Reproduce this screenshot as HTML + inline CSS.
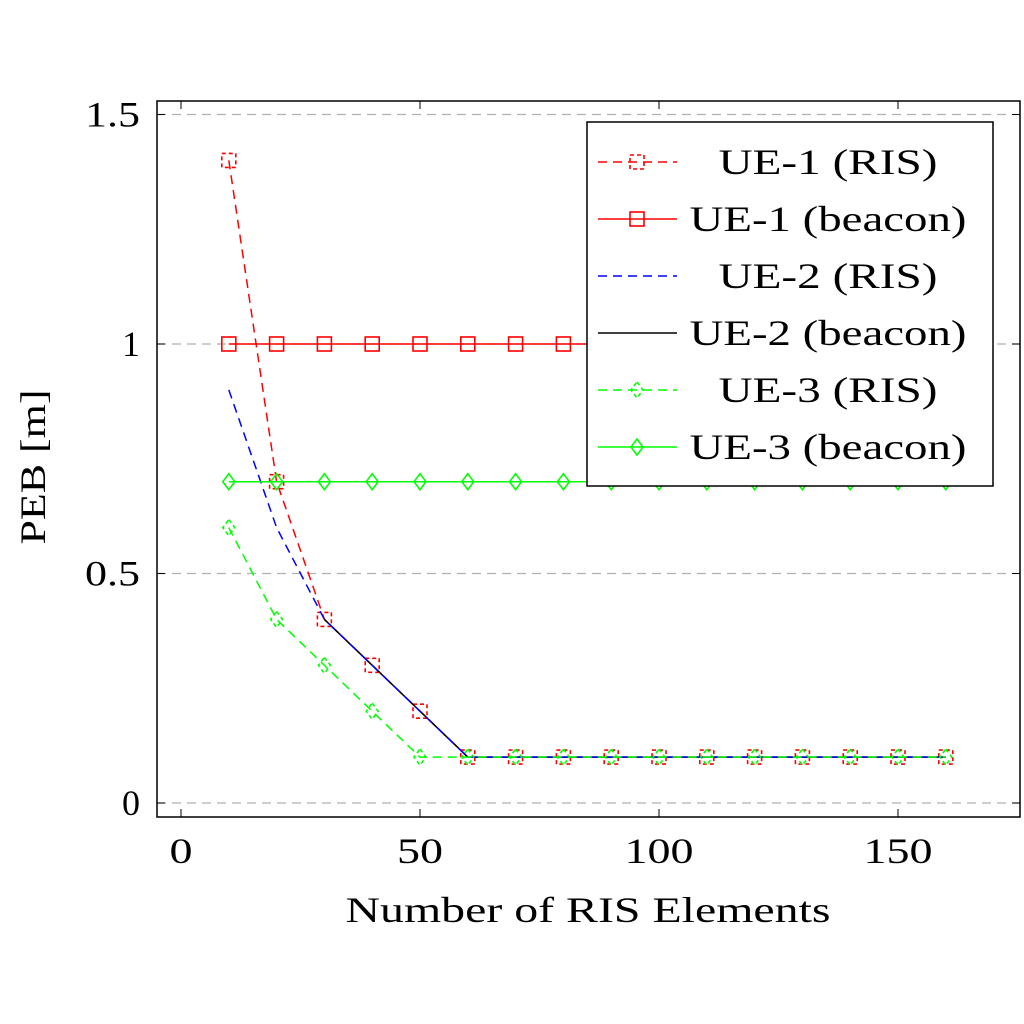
<!DOCTYPE html>
<html><head><meta charset="utf-8"><style>
html,body{margin:0;padding:0;background:#fff;width:1024px;height:1024px;overflow:hidden}
svg text{font-family:"Liberation Serif",serif;fill:#000}
</style></head><body>
<svg id="chart" width="1024" height="1024" viewBox="0 0 1024 1024" xmlns="http://www.w3.org/2000/svg"></svg>
<script>
const xs=[10,20,30,40,50,60,70,80,90,100,110,120,130,140,150,160];
const ue1Ris=[1.4,0.7,0.4,0.3,0.2,0.1,0.1,0.1,0.1,0.1,0.1,0.1,0.1,0.1,0.1,0.1];
const ue1Beacon=[1,1,1,1,1,1,1,1,1,1,1,1,1,1,1,1];
const ue2Ris=[0.9,0.6,0.4,0.3,0.2,0.1,0.1,0.1,0.1,0.1,0.1,0.1,0.1,0.1,0.1,0.1];
const ue2Beacon=[null,null,0.4,0.3,0.2,0.1,0.1,0.1,0.1,0.1,0.1,0.1,0.1,0.1,0.1,0.1];
const ue3Ris=[0.6,0.4,0.3,0.2,0.1,0.1,0.1,0.1,0.1,0.1,0.1,0.1,0.1,0.1,0.1,0.1];
const ue3Beacon=[0.7,0.7,0.7,0.7,0.7,0.7,0.7,0.7,0.7,0.7,0.7,0.7,0.7,0.7,0.7,0.7];
const xTicks=[0,50,100,150];
const yTicks=[0,0.5,1,1.5];
const yTickLabels=["0","0.5","1","1.5"];
const legendLabels=["UE-1 (RIS)","UE-1 (beacon)","UE-2 (RIS)","UE-2 (beacon)","UE-3 (RIS)","UE-3 (beacon)"];

const svg=document.getElementById('chart');
const NS='http://www.w3.org/2000/svg';
const X=v=>181+v*4.78;
const Y=v=>803-v*459;
const FS=36;
function mk(tag,attrs,parent){const e=document.createElementNS(NS,tag);for(const k in attrs)e.setAttribute(k,attrs[k]);(parent||svg).appendChild(e);return e;}
function stretch(t,len){t.setAttribute('textLength',len);t.setAttribute('lengthAdjust','spacingAndGlyphs');}
const digitW=23;

yTicks.forEach((t,i)=>{
  const g=mk('line',{x1:157,x2:1020,y1:Y(t),y2:Y(t),stroke:'#b0b0b0','stroke-width':1.3,'stroke-dasharray':'9,6'});
  
  
  const tk=mk('text',{x:140,y:Y(t)+12,'font-size':FS,'text-anchor':'end'});
  tk.textContent=yTickLabels[i];
  const lab=yTickLabels[i];
  stretch(tk, lab.length===1?18:55);
  
  
  mk('line',{x1:157,x2:165,y1:Y(t),y2:Y(t),stroke:'#000','stroke-width':1});
  mk('line',{x1:1012,x2:1020,y1:Y(t),y2:Y(t),stroke:'#000','stroke-width':1});
});
xTicks.forEach(t=>{
  const tk=mk('text',{x:X(t),y:863,'font-size':FS,'text-anchor':'middle'});
  tk.textContent=String(t);
  stretch(tk,String(t).length*digitW);
  
  
  mk('line',{x1:X(t),x2:X(t),y1:809,y2:817,stroke:'#000','stroke-width':1});
  mk('line',{x1:X(t),x2:X(t),y1:101,y2:109,stroke:'#000','stroke-width':1});
});

function marker(type,x,y,color,dashed,parent){
  const da=dashed?'4,3':'none';
  if(type==='sq') return mk('rect',{x:x-7,y:y-7,width:14,height:14,fill:'none',stroke:color,'stroke-width':1.6,'stroke-dasharray':da},parent);
  if(type==='dia') return mk('polygon',{points:`${x},${y-8} ${x+6},${y} ${x},${y+8} ${x-6},${y}`,fill:'none',stroke:color,'stroke-width':1.6,'stroke-dasharray':da},parent);
}
const series=[
 {name:'ue1-ris',data:ue1Ris,color:'#ff0000',dash:'9,6',m:'sq',md:true},
 {name:'ue1-beacon',data:ue1Beacon,color:'#ff0000',dash:'none',m:'sq',md:false},
 {name:'ue2-ris',data:ue2Ris,color:'#0000ff',dash:'9,6',m:null},
 {name:'ue2-beacon',data:ue2Beacon,color:'#000000',dash:'none',m:null},
 {name:'ue3-ris',data:ue3Ris,color:'#00ff00',dash:'9,6',m:'dia',md:true},
 {name:'ue3-beacon',data:ue3Beacon,color:'#00ff00',dash:'none',m:'dia',md:false},
];
[1,0,3,2,5,4].forEach(i=>{
  const s=series[i];
  const g=mk('g',{});
  
  
  let d='';let pen=false;
  s.data.forEach((v,j)=>{if(v==null){pen=false;return;}d+=(pen?'L':'M')+X(xs[j])+','+Y(v)+' ';pen=true;});
  mk('path',{d:d,fill:'none',stroke:s.color,'stroke-width':1.5,'stroke-dasharray':s.dash},g);
  if(s.m) s.data.forEach((v,j)=>{if(v==null)return;const mm=marker(s.m,X(xs[j]),Y(v),s.color,s.md,g);
    
    });
});

mk('rect',{x:157,y:101,width:863,height:716,fill:'none',stroke:'#000','stroke-width':1.5});

const lg=mk('g',{});


mk('rect',{x:587,y:122,width:406,height:364,fill:'#fff',stroke:'#000','stroke-width':1.5},lg);
series.forEach((s,i)=>{
  const y=162+i*57;
  const e=mk('g',{},lg);
  
  
  mk('line',{x1:598,x2:677,y1:y,y2:y,stroke:s.color,'stroke-width':1.5,'stroke-dasharray':s.dash},e);
  if(s.m) marker(s.m,637,y,s.color,s.md,e);
  const t=mk('text',{x:828,y:y+12,'font-size':FS,'text-anchor':'middle'},e);
  t.textContent=legendLabels[i];
  stretch(t, legendLabels[i].indexOf('beacon')>=0?277:219);
});

const xl=mk('text',{x:588,y:922,'font-size':FS,'text-anchor':'middle'});
xl.textContent='Number of RIS Elements';
stretch(xl,485);


const yl=mk('text',{x:0,y:0,'font-size':FS,'text-anchor':'middle',transform:'translate(45,467) rotate(-90)'});
yl.textContent='PEB [m]';
stretch(yl,155);


</script>
</body></html>
